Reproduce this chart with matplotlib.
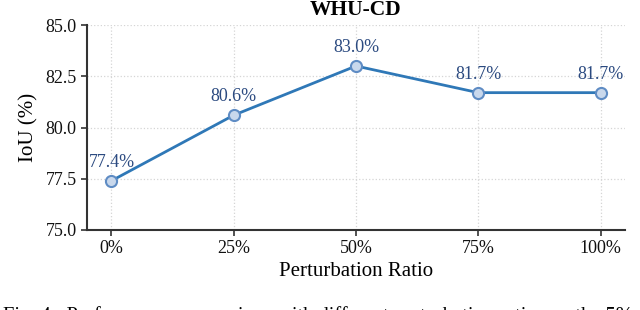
import matplotlib
matplotlib.use("Agg")
import matplotlib.pyplot as plt

ratios = ["0%", "25%", "50%", "75%", "100%"]
iou = [77.4, 80.6, 83.0, 81.7, 81.7]
yticks = [75.0, 77.5, 80.0, 82.5, 85.0]

plt.rcParams['font.family'] = ['Liberation Serif', 'DejaVu Serif']

fig = plt.figure(figsize=(6.4, 3.1), dpi=100)
ax = fig.add_axes([87/640, 1 - 230/310, (625-87)/640, (230-25)/310])

x = list(range(len(ratios)))
ax.plot(x, iou, color='#2f78b7', lw=2, marker='o', markersize=8,
        markerfacecolor='#c9d8ec', markeredgecolor='#5f8cc4', markeredgewidth=1.5, zorder=3)
for xi, v in zip(x, iou):
    ax.annotate(f"{v:.1f}%", (xi, v), xytext=(0, 7), textcoords='offset points',
                ha='center', va='bottom', color='#2b4a80', fontsize=13)

ax.set_xlim(-0.2, 4.2)
ax.set_ylim(75, 85)
ax.set_xticks(x)
ax.set_xticklabels(ratios)
ax.set_yticks(yticks)
ax.set_yticklabels([f"{t:.1f}" for t in yticks])
ax.tick_params(labelsize=13, color='#333333', width=1.2, length=4, labelcolor='#111111')
ax.grid(True, linestyle=':', color='#d5d5d5', lw=0.9)
ax.set_axisbelow(True)
for s in ['top', 'right']:
    ax.spines[s].set_visible(False)
for s in ['left', 'bottom']:
    ax.spines[s].set_color('#333333')
    ax.spines[s].set_linewidth(1.5)

ax.set_xlabel("Perturbation Ratio", fontsize=15, labelpad=3)
ax.set_ylabel("IoU (%)", fontsize=15, labelpad=5)
ax.set_title("WHU-CD", fontsize=15.5, fontweight='bold', pad=7)

fig.text(0.005, 1 - 306.5/310, "Fig. 4:  Performance comparison with different perturbation ratios on the 5%",
         fontsize=14.8, ha='left', va='top')

fig.savefig("out.png", dpi=100)
